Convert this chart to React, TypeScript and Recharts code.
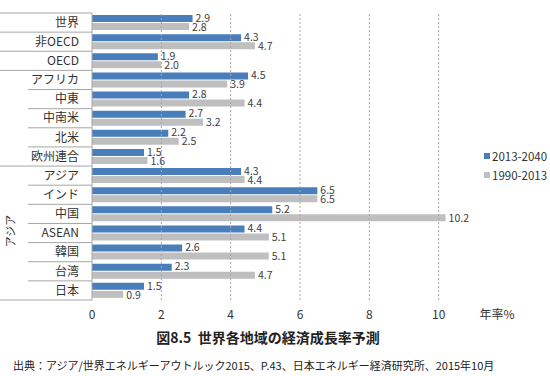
import { BarChart, Bar, XAxis, YAxis, ReferenceLine, LabelList } from "recharts"

const regions = [
  "世界",
  "非OECD",
  "OECD",
  "アフリカ",
  "中東",
  "中南米",
  "北米",
  "欧州連合",
  "アジア",
  "インド",
  "中国",
  "ASEAN",
  "韓国",
  "台湾",
  "日本",
]
const forecast2013to2040 = [2.9, 4.3, 1.9, 4.5, 2.8, 2.7, 2.2, 1.5, 4.3, 6.5, 5.2, 4.4, 2.6, 2.3, 1.5]
const actual1990to2013 = [2.8, 4.7, 2.0, 3.9, 4.4, 3.2, 2.5, 1.6, 4.4, 6.5, 10.2, 5.1, 5.1, 4.7, 0.9]
const xTicks = [0, 2, 4, 6, 8, 10, 12]
const gridValues = [2, 4, 6, 8, 10]
// rows whose top separator spans the full label column
const fullLineRows = [0, 1, 2, 3, 8]

const FONT = "'Noto Sans CJK JP', 'Noto Sans', sans-serif"
const BLUE = "#4A7EBB"
const GRAY = "#BFBFBF"
const LINE = "#A6A6A6"

const CHART_W = 550
const CHART_H = 376
const PLOT_TOP = 13
const PLOT_BOTTOM = 300
const LABEL_W = 92
const BAND = (PLOT_BOTTOM - PLOT_TOP) / regions.length

const data = regions.map((name, i) => ({
  name,
  a: forecast2013to2040[i],
  b: actual1990to2013[i],
}))

function CategoryTick(props: any) {
  const { y, payload, index } = props
  const top = y - BAND / 2
  const x0 = fullLineRows.includes(index) ? 0 : 28
  return (
    <g>
      <line x1={x0} x2={LABEL_W} y1={top} y2={top} stroke={LINE} />
      {index === regions.length - 1 && (
        <line x1={0} x2={LABEL_W} y1={top + BAND} y2={top + BAND} stroke={LINE} />
      )}
      <text x={79} y={y} dy="0.35em" textAnchor="end" fontSize={12} fill="#333" fontFamily={FONT}>
        {payload.value}
      </text>
      {index === 11 && (
        <text
          x={11}
          y={y - 2}
          dy="0.35em"
          textAnchor="middle"
          fontSize={11}
          fill="#333"
          fontFamily={FONT}
          transform={`rotate(-90 11 ${y - 2})`}
        >
          アジア
        </text>
      )}
    </g>
  )
}

function ValueTick(props: any) {
  const { x, y, payload } = props
  const isUnit = payload.value === 12
  return (
    <text
      x={isUnit ? x - 11 : x}
      y={y}
      dy="0.71em"
      textAnchor="middle"
      fontSize={12}
      fill="#333"
      fontFamily={FONT}
    >
      {isUnit ? "年率%" : payload.value}
    </text>
  )
}

const makeValueLabel = (shift: number) => (p: any) => {
  const { x, y, width, height, value } = p
  return (
    <text
      x={x + width + 3}
      y={y + height / 2 + shift}
      dy="0.35em"
      fontSize={10.5}
      fill="#404040"
      fontFamily={FONT}
    >
      {Number(value).toFixed(1)}
    </text>
  )
}

function LegendBox() {
  const items = [
    { color: BLUE, label: "2013-2040" },
    { color: GRAY, label: "1990-2013" },
  ]
  return (
    <div style={{ position: "absolute", left: 484, top: 146, fontFamily: FONT, fontSize: 11.5, color: "#333", whiteSpace: "nowrap" }}>
      {items.map((it) => (
        <div key={it.label} style={{ display: "flex", alignItems: "center", height: 19 }}>
          <span style={{ width: 6, height: 6, background: it.color, marginRight: 2, display: "inline-block" }} />
          <span>{it.label}</span>
        </div>
      ))}
    </div>
  )
}

export default function App() {
  return (
    <div style={{ position: "absolute", left: 0, top: 0, width: CHART_W, height: CHART_H, background: "#fff" }}>
      <BarChart
        width={CHART_W}
        height={CHART_H}
        data={data}
        layout="vertical"
        margin={{ top: PLOT_TOP, right: 42, left: 0, bottom: CHART_H - PLOT_BOTTOM - 20 }}
        barCategoryGap={2}
        barGap={1}
      >
        {gridValues.map((v) => (
          <ReferenceLine key={v} x={v} stroke={LINE} strokeDasharray="2 2" />
        ))}
        <XAxis
          type="number"
          domain={[0, 12]}
          ticks={xTicks}
          height={20}
          axisLine={false}
          tickLine={false}
          tickSize={0}
          tickMargin={10}
          tick={<ValueTick />}
          interval={0}
        />
        <YAxis
          type="category"
          dataKey="name"
          width={LABEL_W}
          axisLine={{ stroke: LINE }}
          tickLine={false}
          tick={<CategoryTick />}
          interval={0}
        />
        <Bar dataKey="a" fill={BLUE} isAnimationActive={false}>
          <LabelList dataKey="a" content={makeValueLabel(-0.5)} />
        </Bar>
        <Bar dataKey="b" fill={GRAY} isAnimationActive={false}>
          <LabelList dataKey="b" content={makeValueLabel(0.5)} />
        </Bar>
      </BarChart>
      <LegendBox />
      <div
        style={{
          position: "absolute",
          left: 0,
          width: 536,
          top: 327,
          textAlign: "center",
          fontFamily: FONT,
          fontSize: 14,
          fontWeight: "bold",
          color: "#222",
          whiteSpace: "pre",
        }}
      >
        図8.5  世界各地域の経済成長率予測
      </div>
      <div
        style={{
          position: "absolute",
          left: 13,
          top: 357,
          fontFamily: FONT,
          fontSize: 11,
          color: "#222",
          whiteSpace: "nowrap",
        }}
      >
        出典：アジア/世界エネルギーアウトルック2015、P.43、日本エネルギー経済研究所、2015年10月
      </div>
    </div>
  )
}
